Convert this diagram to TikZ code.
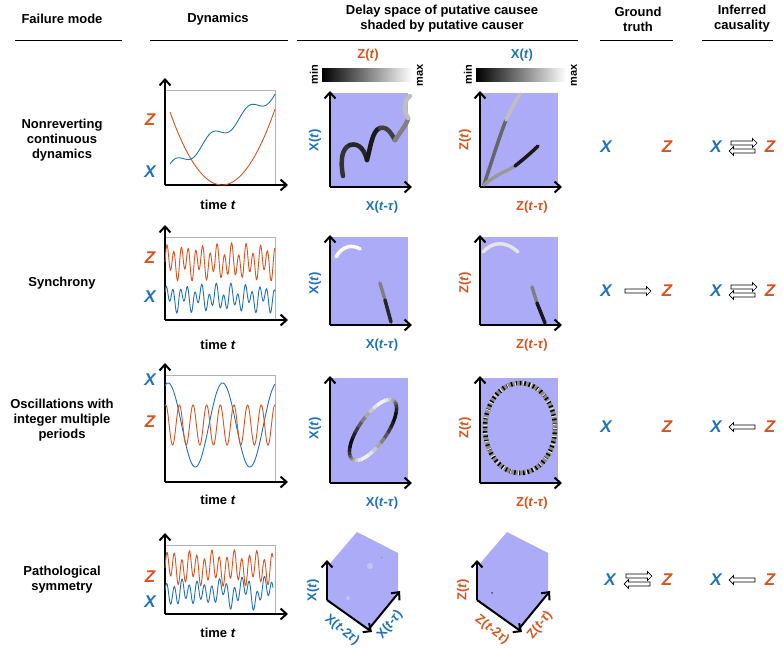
\documentclass[tikz,border=0pt]{standalone}
\usepackage{fontspec}
\setmainfont{Liberation Sans}
\usetikzlibrary{arrows.meta,shapes.arrows}
\definecolor{cx}{HTML}{1F72B8}
\definecolor{cz}{HTML}{D9531E}
\definecolor{pane}{HTML}{ABABF7}
\tikzset{
 hdr/.style={font=\bfseries\fontsize{13}{15}\selectfont,align=center},
 fm/.style={font=\bfseries\fontsize{13}{15}\selectfont,align=center},
 axis/.style={line width=2pt,-{Straight Barb[length=6pt,width=11pt,line width=2pt]}},
 bx/.style={cx,font=\bfseries\itshape\fontsize{17}{17}\selectfont},
 bz/.style={cz,font=\bfseries\itshape\fontsize{17}{17}\selectfont},
 lx/.style={cx,font=\bfseries\fontsize{13}{13}\selectfont},
 lz/.style={cz,font=\bfseries\fontsize{13}{13}\selectfont},
 tt/.style={font=\bfseries\fontsize{13}{13}\selectfont},
 hl/.style={line width=1pt},
 carr/.style={draw,fill=white,single arrow,minimum height=26pt,minimum width=9pt,single arrow head extend=2pt,inner sep=1.2pt,line width=0.7pt},
 seg/.style={line width=4.5pt,line cap=round},
}
\begin{document}
\begin{tikzpicture}[x=1pt,y=-1pt]
\useasboundingbox (0,0) rectangle (783,647);
% headers
\node[hdr] (h1) at (62,19) {Failure mode};
\node[hdr] (h2) at (218,19) {Dynamics};
\node[hdr] (h3) at (442,19) {Delay space of putative causee\\shaded by putative causer};
\node[hdr] (h4) at (638,19) {Ground\\truth};
\node[hdr] (h5) at (742,19) {Inferred\\causality};
\draw[hl] (15,41)--(122,41); \draw[hl] (150,41)--(288,41);
\draw[hl] (297,41)--(578,41); \draw[hl] (600,41)--(673,41); \draw[hl] (702,41)--(773,41);
% failure modes
\node[fm] (f1) at (62,140) {Nonreverting\\continuous\\dynamics};
\node[fm] (f2) at (62,283) {Synchrony};
\node[fm] (f3) at (62,420) {Oscillations with\\integer multiple\\periods};
\node[fm] (f4) at (62,580) {Pathological\\symmetry};
% ---------- dynamics plots
\foreach \t/\b in {90/185,237/320,375/482,545/614}{
 \draw[gray!60,line width=0.5pt] (165,\t) rectangle (275,\b);
 \draw[axis] (165,\b) -- (165,\t-12);
 \draw[axis] (165,\b) -- (288,\b);
}
% row1
\draw[cz,line width=0.9pt] plot[domain=5:110,samples=80] ({165+\x},{185-0.027*(\x-57)^2});
\draw[cx,line width=0.9pt] plot[domain=5:110,samples=120] ({165+\x},{172-0.72*\x-6*sin(9.7*\x)});
\node[bz] (z1) at (150,120) {Z}; \node[bx] (x1) at (150,172) {X};
\node[tt] (t1) at (218,205) {time \textit{t}};
% row2
\draw[cz,line width=0.9pt] plot[domain=0:110,samples=300] ({165+\x},{262-13*sin(50*\x)-6*sin(23*\x)});
\draw[cx,line width=0.9pt] plot[domain=0:110,samples=300] ({165+\x},{298-9*sin(50*\x+40)-6*sin(23*\x)});
\node[bz] (z2) at (150,258) {Z}; \node[bx] (x2) at (150,297) {X};
\node[tt] (t2) at (218,345) {time \textit{t}};
% row3
\draw[cx,line width=0.9pt] plot[domain=0:110,samples=200] ({165+\x},{425-42*sin(6.6*\x+70)});
\draw[cz,line width=0.9pt] plot[domain=0:110,samples=300] ({165+\x},{425-20*sin(26.4*\x+70)});
\node[bx] (x3) at (150,380) {X}; \node[bz] (z3) at (150,422) {Z};
\node[tt] (t3) at (218,500) {time \textit{t}};
% row4
\draw[cz,line width=0.9pt] plot[domain=0:108,samples=300] ({165+\x},{568-13*sin(48*\x)-5*sin(17*\x)});
\draw[cx,line width=0.9pt] plot[domain=0:108,samples=300] ({165+\x},{590-9*sin(48*\x)+5*sin(17*\x)+8*(sin(7*\x))^8});
\node[bz] (z4) at (150,577) {Z}; \node[bx] (x4) at (150,602) {X};
\node[tt] (t4) at (218,633) {time \textit{t}};
% ---------- delay space panes (2D)
\foreach \xo in {330,480}{
 \foreach \t/\b in {93/187,237/325,378/483}{
  \fill[pane] (\xo,\t) rectangle (\xo+78,\b);
  \draw[axis] (\xo,\b) -- (\xo,\t-2);
  \draw[axis] (\xo,\b) -- (\xo+82,\b);
 }
}
% colorbars
\foreach \xo/\lab/\st in {322/{Z(\textit{t})}/lz,476/{X(\textit{t})}/lx}{
 \shade[left color=black,right color=white] (\xo,69) rectangle (\xo+90,82);
 \node[font=\bfseries\fontsize{11}{11}\selectfont,rotate=90] at (\xo-8,75) {min};
 \node[font=\bfseries\fontsize{11}{11}\selectfont,rotate=90] at (\xo+98,75) {max};
}
\node[lz] (cb1) at (368,55) {Z(\textit{t})};
\node[lx] (cb2) at (522,55) {X(\textit{t})};
% axis labels
\node[lx,rotate=90] (a1) at (315,140) {X(\textit{t})};
\node[lx] (b1) at (382,207) {X(\textit{t}-\textit{τ})};
\node[lz,rotate=90] (a2) at (465,140) {Z(\textit{t})};
\node[lz] (b2) at (532,207) {Z(\textit{t}-\textit{τ})};
\node[lx,rotate=90] (a3) at (315,283) {X(\textit{t})};
\node[lx] (b3) at (382,345) {X(\textit{t}-\textit{τ})};
\node[lz,rotate=90] (a4) at (465,283) {Z(\textit{t})};
\node[lz] (b4) at (532,345) {Z(\textit{t}-\textit{τ})};
\node[lx,rotate=90] (a5) at (315,428) {X(\textit{t})};
\node[lx] (b5) at (382,503) {X(\textit{t}-\textit{τ})};
\node[lz,rotate=90] (a6) at (465,428) {Z(\textit{t})};
\node[lz] (b6) at (532,503) {Z(\textit{t}-\textit{τ})};
% row1 left curve
\draw[seg,black!80] (343,176) .. controls (340,160) and (342,148) .. (350,145);
\draw[seg,black!85] (350,145) .. controls (360,142) and (365,152) .. (367,160);
\draw[seg,black!90] (367,160) .. controls (370,150) and (372,130) .. (380,128);
\draw[seg,black!75] (380,128) .. controls (388,126) and (392,135) .. (395,140);
\draw[seg,black!50] (395,140) .. controls (402,130) and (408,122) .. (408,118);
\draw[seg,black!25] (408,118) .. controls (403,110) and (404,100) .. (410,96);
% row1 right curves
\draw[seg,black!60,line width=3.5pt] (484,185) .. controls (492,160) and (500,135) .. (506,120);
\draw[seg,black!25,line width=3.5pt] (506,120) .. controls (512,108) and (516,100) .. (520,94);
\draw[seg,black!40,line width=3.5pt] (484,185) .. controls (495,175) and (505,172) .. (515,166);
\draw[seg,black!90,line width=3.5pt] (515,166) .. controls (525,158) and (532,152) .. (538,146);
% row2
\draw[seg,white,line width=3.5pt] (336,257) .. controls (342,246) and (352,244) .. (360,249);
\draw[seg,black!50,line width=3.5pt] (380,283) -- (385,300);
\draw[seg,black!85,line width=3.5pt] (385,300) -- (391,322);
\draw[seg,black!10,line width=3.5pt] (483,252) .. controls (492,242) and (505,240) .. (518,252);
\draw[seg,black!50,line width=3.5pt] (532,287) -- (537,303);
\draw[seg,black!90,line width=3.5pt] (537,303) -- (545,323);
% row3 left ellipse
\foreach \a in {0,10,...,350}{
 \pgfmathsetmacro\g{int(50+45*sin(2*\a))}
 \draw[line width=3.5pt,black!\g,rotate around={55:(373,430)}] ({373+36*cos(\a)},{430+14*sin(\a)}) -- ({373+36*cos(\a+11)},{430+14*sin(\a+11)});
}
% row3 right ellipse
\draw[line width=4.5pt,black!45] (520,428) ellipse [x radius=35,y radius=45];
\draw[line width=4.5pt,black,dash pattern=on 1.5pt off 3pt] (520,428) ellipse [x radius=35,y radius=45];
\draw[line width=4.5pt,white!80!gray,dash pattern=on 1pt off 7pt] (520,428) ellipse [x radius=35,y radius=45];
% ---------- row4 3D panes
\foreach \xo/\col/\nm in {0/cx/l,150/cz/r}{
 \fill[pane] (357+\xo,532)--(398+\xo,553)--(398+\xo,593)--(368+\xo,630)--(327+\xo,600)--(327+\xo,567)--cycle;
 \draw[axis] (327+\xo,600)--(327+\xo,560);
 \draw[axis] (327+\xo,600)--(372+\xo,632);
 \draw[axis] (368+\xo,630)--(400+\xo,591);
}
\pgfmathsetseed{7}
\foreach \i in {1..260}{
 \pgfmathsetmacro\px{338+rnd*50}
 \pgfmathsetmacro\py{563+rnd*40-0.25*(\px-338)}
 \pgfmathsetmacro\g{int(30+60*rnd)}
 \fill[black!\g] (\px,\py) circle (1.1);
}
\fill[pane!70!white] (370,566) circle (3);
\fill[pane!70!white] (348,598) circle (2);
\foreach \i in {1..320}{
 \pgfmathsetmacro\r{rnd}
 \pgfmathsetmacro\px{485+rnd*62}
 \pgfmathsetmacro\py{556+rnd*42+0.15*(\px-485)-0.3*(\px-485)*\r}
 \pgfmathsetmacro\g{int(10+85*rnd)}
 \fill[black!\g] (\px,\py) circle (1.1);
}
\fill[pane] (520,577) circle (4);
\node[lx,rotate=90] (a7) at (313,590) {X(\textit{t})};
\node[lx,rotate=-38] (b7) at (342,630) {X(\textit{t}-2\textit{τ})};
\node[lx,rotate=52] (c7) at (390,625) {X(\textit{t}-\textit{τ})};
\node[lz,rotate=90] (a8) at (463,590) {Z(\textit{t})};
\node[lz,rotate=-38] (b8) at (492,630) {Z(\textit{t}-2\textit{τ})};
\node[lz,rotate=52] (c8) at (540,625) {Z(\textit{t}-\textit{τ})};
% ---------- ground truth
\node[bx] (g1x) at (606,147) {X}; \node[bz] (g1z) at (667,147) {Z};
\node[bx] (g2x) at (606,291) {X}; \node[bz] (g2z) at (667,291) {Z};
\node[carr] (g2a) at (637,291) {};
\node[bx] (g3x) at (606,427) {X}; \node[bz] (g3z) at (667,427) {Z};
\node[bx] (g4x) at (610,580) {X}; \node[bz] (g4z) at (667,580) {Z};
\node[carr] (g4a) at (638,576) {}; \node[carr,shape border rotate=180] (g4b) at (638,584) {};
% ---------- inferred
\foreach \y/\n in {147/1,291/2}{
 \node[bx] (i\n x) at (716,\y) {X}; \node[bz] (i\n z) at (770,\y) {Z};
 \node[carr] (i\n a) at (743,\y-4) {}; \node[carr,shape border rotate=180] (i\n b) at (743,\y+4) {};
}
\node[bx] (i3x) at (716,427) {X}; \node[bz] (i3z) at (770,427) {Z};
\node[carr,shape border rotate=180] (i3a) at (743,427) {};
\node[bx] (i4x) at (716,580) {X}; \node[bz] (i4z) at (770,580) {Z};
\node[carr,shape border rotate=180] (i4a) at (743,580) {};
\end{tikzpicture}
\end{document}
